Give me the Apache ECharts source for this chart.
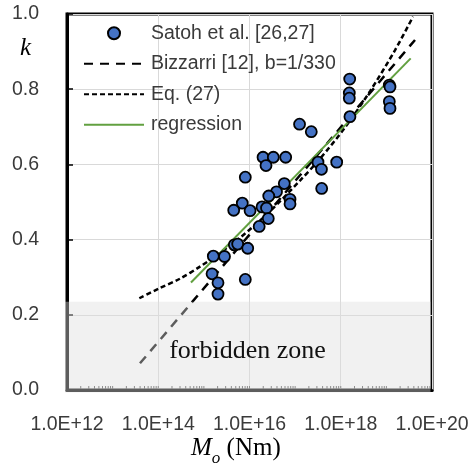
<!DOCTYPE html>
<html>
<head>
<meta charset="utf-8">
<script src="https://cdn.jsdelivr.net/npm/echarts@6/dist/echarts.min.js"></script>
<style>
html,body{margin:0;padding:0;background:#fff;}
#chart{width:475px;height:470px;}
</style>
</head>
<body>
<div id="chart"></div>
<script>
// ---- data ----
const xTickValues = [1e12, 1e14, 1e16, 1e18, 1e20];
const xTickLabels = ['1.0E+12', '1.0E+14', '1.0E+16', '1.0E+18', '1.0E+20'];
const yTickValues = [0, 0.2, 0.4, 0.6, 0.8, 1.0];
const yTickLabels = ['0.0', '0.2', '0.4', '0.6', '0.8', '1.0'];

// Satoh et al. [26,27] observations: seismic moment (Nm) and k
const satohM = [1.57e18, 1.54e18, 1.54e18, 1.59e18, 1.16e19, 1.20e19, 1.16e19, 1.20e19,
  1.25e17, 2.26e17, 3.17e17, 3.78e17, 8.15e17, 3.82e17,
  1.98e16, 3.33e16, 6.21e16, 2.30e16, 8.09e15, 5.79e16, 3.91e16, 2.64e16, 7.73e16, 7.73e16,
  6.95e15, 4.51e15, 1.03e16, 1.88e16, 2.36e16, 2.58e16, 1.63e16,
  4.65e15, 5.51e15, 9.14e15, 1.61e15, 2.83e15, 1.51e15, 2.04e15, 2.04e15, 8.09e15];
const satohK = [0.827, 0.790, 0.776, 0.727, 0.811, 0.806, 0.767, 0.749,
  0.707, 0.687, 0.606, 0.587, 0.606, 0.536,
  0.619, 0.619, 0.619, 0.597, 0.566, 0.549, 0.527, 0.516, 0.507, 0.495,
  0.497, 0.478, 0.477, 0.487, 0.484, 0.456, 0.435,
  0.386, 0.388, 0.377, 0.356, 0.355, 0.309, 0.285, 0.255, 0.294];

// Bizzarri [12], b=1/330
const bizzarriM = [3.98e13, 3.38e15, 1.28e17, 4.24e19];
const bizzarriK = [0.071, 0.346, 0.571, 0.931];

// Eq. (27)
const eq27M = [3.85e13, 1.0e14, 3.0e14, 8.2e14, 1.75e15, 6.2e15, 2.8e16, 1.28e17, 3.5e17, 1.24e18, 4.4e18, 1.55e19, 3.84e19];
const eq27K = [0.244, 0.269, 0.296, 0.328, 0.355, 0.405, 0.475, 0.557, 0.615, 0.698, 0.795, 0.904, 0.993];

// regression line
const regressionM = [5.22e14, 3.41e19];
const regressionK = [0.286, 0.882];

// forbidden zone upper bound of k
const forbiddenTop = [0.235];
const forbiddenLabel = ['forbidden zone'];

// log minor tick positions on the x axis (multipliers within each decade)
const minorMultipliers = [1, 2, 3, 4, 5, 6, 7, 8, 9];
const minorDecades = [12, 13, 14, 15, 16, 17, 18, 19];

const seriesNames = ['Satoh et al. [26,27]', 'Bizzarri [12], b=1/330', 'Eq. (27)', 'regression'];

// ---- build ----
const zip = (a, b) => a.map((v, i) => [v, b[i]]);
const minorTicks = [];
minorDecades.forEach(d => minorMultipliers.forEach(m => {
  const v = m * Math.pow(10, d);
  if (v > xTickValues[0]) minorTicks.push([v, 0]);
}));

const SANS = "'Liberation Sans', Arial, sans-serif";
const SERIF = "'Liberation Serif', 'Times New Roman', serif";
const TXT = '#3a3a3a';

const chart = echarts.init(document.getElementById('chart'), null, {renderer: 'canvas'});

const option = {
  animation: false,
  backgroundColor: '#fff',
  grid: {left: 67, right: 43, top: 14, bottom: 80, show: true, borderColor: '#000', borderWidth: 3, backgroundColor: 'transparent'},
  legend: {
    orient: 'vertical', left: 78, top: 17, itemWidth: 60, itemHeight: 12, itemGap: 8,
    textStyle: {fontFamily: SANS, fontSize: 19.5, color: TXT, lineHeight: 22.5, padding: [0, 0, 0, 2]},
    data: [
      {name: seriesNames[0], icon: 'circle'},
      {name: seriesNames[1], itemStyle: {opacity: 0}},
      {name: seriesNames[2], itemStyle: {opacity: 0}},
      {name: seriesNames[3], itemStyle: {opacity: 0}}
    ]
  },
  xAxis: {
    type: 'log', logBase: 10, min: xTickValues[0], max: xTickValues[xTickValues.length - 1],
    interval: 2,
    axisLine: {show: true, lineStyle: {color: '#000', width: 3}},
    axisTick: {show: false},
    splitLine: {show: true, lineStyle: {color: '#d9d9d9', width: 1}},
    axisLabel: {
      margin: 25, fontFamily: SANS, fontSize: 19.5, color: TXT,
      formatter: v => {
        const i = xTickValues.findIndex(t => Math.abs(Math.log10(t) - Math.log10(v)) < 1e-6);
        return i >= 0 ? xTickLabels[i] : '';
      }
    }
  },
  yAxis: {
    type: 'value', min: 0, max: 1, interval: 0.2,
    axisLine: {show: true, lineStyle: {color: '#000', width: 3}},
    axisTick: {show: true, inside: true, length: 6, lineStyle: {color: '#000', width: 1.5}},
    splitLine: {show: true, lineStyle: {color: '#d9d9d9', width: 1}},
    axisLabel: {
      margin: 28, fontFamily: SANS, fontSize: 19.5, color: TXT,
      formatter: v => {
        const i = yTickValues.findIndex(t => Math.abs(t - v) < 1e-6);
        return i >= 0 ? yTickLabels[i] : '';
      }
    }
  },
  graphic: [
    {type: 'text', left: 20, top: 36, style: {text: 'k', font: 'italic 25px ' + SERIF, fill: '#000'}},
    {type: 'text', left: 191, top: 436, style: {
      text: '{m|M}{o|o}{n| (Nm)}',
      rich: {
        m: {fontFamily: SERIF, fontStyle: 'italic', fontSize: 25, fill: '#000', verticalAlign: 'bottom', lineHeight: 28},
        o: {fontFamily: SERIF, fontStyle: 'italic', fontSize: 17, fill: '#000', verticalAlign: 'bottom', lineHeight: 28, padding: [0, 0, -6, 0]},
        n: {fontFamily: SERIF, fontSize: 25, fill: '#000', verticalAlign: 'bottom', lineHeight: 28}
      }
    }}
  ],
  series: [
    {
      name: 'minorTicks', type: 'custom', z: 1, silent: true, clip: false,
      data: minorTicks,
      renderItem: (params, api) => {
        const p = api.coord([api.value(0), api.value(1)]);
        return {type: 'line', shape: {x1: p[0], y1: p[1] - 1, x2: p[0], y2: p[1] - 4}, style: {stroke: '#555', lineWidth: 1}};
      }
    },
    {
      name: seriesNames[1], type: 'line', z: 3, symbol: 'none', smooth: false,
      data: zip(bizzarriM, bizzarriK),
      lineStyle: {color: '#000', width: 2.5, type: [9, 7]},
      itemStyle: {color: '#000'}
    },
    {
      name: seriesNames[2], type: 'line', z: 3, symbol: 'none', smooth: 0.3,
      data: zip(eq27M, eq27K),
      lineStyle: {color: '#000', width: 2.5, type: [5, 3]},
      itemStyle: {color: '#000'}
    },
    {
      name: seriesNames[3], type: 'line', z: 4, symbol: 'none',
      data: zip(regressionM, regressionK),
      lineStyle: {color: '#62A040', width: 2},
      itemStyle: {color: '#62A040'}
    },
    {
      name: seriesNames[0], type: 'scatter', z: 5, symbol: 'circle', symbolSize: 11,
      data: zip(satohM, satohK),
      itemStyle: {color: '#4472C4', borderColor: '#000', borderWidth: 1.8, opacity: 1}
    },
    {
      name: 'forbidden', type: 'custom', z: 8, silent: true, clip: false,
      data: [[1e16, forbiddenTop[0]]],
      renderItem: (params, api) => {
        const tl = api.coord([xTickValues[0], api.value(1)]);
        const br = api.coord([xTickValues[xTickValues.length - 1], 0]);
        const mid = api.coord([api.value(0), api.value(1) / 2]);
        return {type: 'group', children: [
          {type: 'rect', shape: {x: tl[0] - 2, y: tl[1], width: br[0] - tl[0] + 0.5, height: br[1] - tl[1] + 2.5},
           style: {fill: 'rgba(222,222,222,0.42)'}},
          {type: 'text', x: mid[0] - 2, y: mid[1] + 5, style: {text: forbiddenLabel[0], font: '26px ' + SERIF, fill: '#111', align: 'center', verticalAlign: 'middle'}}
        ]};
      }
    }
  ]
};
chart.setOption(option);
</script>
</body>
</html>
